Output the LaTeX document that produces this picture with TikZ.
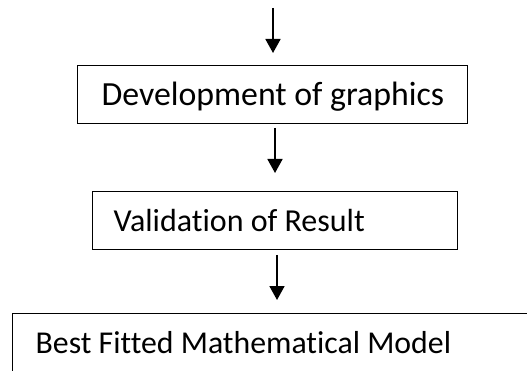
\documentclass[tikz,border=0pt]{standalone}
\usepackage{fontspec}
\setmainfont{Carlito}[Ligatures=NoCommon]
\usetikzlibrary{arrows.meta}
\tikzset{
  box/.style={draw, line width=1.3pt, anchor=north west,
    inner ysep=0pt, minimum height=58pt, text height=22pt, text depth=0pt},
  flow/.style={line width=1.8pt, -{Triangle[width=15pt,length=14pt]}}
}
\begin{document}
\begin{tikzpicture}[x=1pt,y=-1pt]
\useasboundingbox (0,0) rectangle (527,371);
\coordinate (start) at (273,8);
\node[box, inner xsep=24pt, font=\fontsize{33.8}{39}\selectfont] (dev) at (77,65) {\makebox[342pt][l]{Development of graphics}};
\node[box, inner xsep=21pt, font=\fontsize{32}{38}\selectfont] (val) at (92,191) {\makebox[323pt][l]{Validation of Result}};
\node[box, inner xsep=23pt, font=\fontsize{31.8}{37}\selectfont] (best) at (12,313) {\makebox[600pt][l]{Best Fitted Mathematical Model}};
\draw[flow] (start) -- (273,53);
\draw[flow] (275,128) -- (275,173);
\draw[flow] (277,255) -- (277,300);
\end{tikzpicture}
\end{document}
